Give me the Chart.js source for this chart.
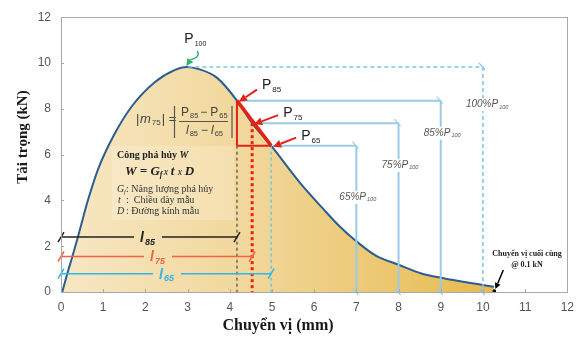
<!DOCTYPE html>
<html>
<head>
<meta charset="utf-8">
<title>Tải trọng - Chuyển vị</title>
<style>body{margin:0;background:#fff}</style>
</head>
<body>
<canvas id="loadChart" width="582" height="350"></canvas>
<script src="https://cdn.jsdelivr.net/npm/chart.js"></script>
<script>
// load - displacement curve
const dispMM = [0.03, 0.17, 0.27, 0.40, 0.65, 0.88, 1.24, 1.67, 2.22, 2.69, 2.97, 3.29, 3.70, 4.17, 4.53, 4.98, 5.65, 6.20, 6.60, 6.97, 7.46, 7.99, 8.56, 9.04, 9.67, 10.26];
const loadKN = [0.00, 0.94, 1.55, 2.40, 4.08, 5.37, 6.80, 8.09, 9.16, 9.69, 9.83, 9.72, 9.35, 8.36, 7.37, 6.39, 4.80, 3.66, 2.87, 2.26, 1.59, 1.20, 0.80, 0.61, 0.40, 0.23];

// P100 / P85 / P75 / P65 levels
const levelPct = [100, 85, 75, 65];
const levelDisp = [2.97, 4.17, 4.53, 4.98];   // where the curve crosses each level
const levelEnd = [10, 9, 8, 7];              // displacement of the blue guide
const levelNames = ['100', '85', '75', '65'];
const finalDisp = 10.27;                      // last displacement @ 0.1 kN

const peakLoad = Math.max(...loadKN);
const levelLoad = levelPct.map(p => peakLoad * p / 100);

const RED = '#e2231a';
const BLUE = '#9ccae6';
const CYAN = '#2cb8e8';
const ORANGE = '#f26245';

function seg(ctx, x1, y1, x2, y2, color, w, dash) {
    ctx.save();
    ctx.strokeStyle = color;
    ctx.lineWidth = w;
    ctx.setLineDash(dash || []);
    ctx.beginPath();
    ctx.moveTo(x1, y1);
    ctx.lineTo(x2, y2);
    ctx.stroke();
    ctx.restore();
}

function arrow(ctx, x1, y1, x2, y2, color, w, head) {
    const ang = Math.atan2(y2 - y1, x2 - x1);
    const bx = x2 - head * Math.cos(ang), by = y2 - head * Math.sin(ang);
    seg(ctx, x1, y1, bx, by, color, w);
    ctx.save();
    ctx.fillStyle = color;
    ctx.beginPath();
    ctx.moveTo(x2, y2);
    ctx.lineTo(bx + head * 0.5 * Math.sin(ang), by - head * 0.5 * Math.cos(ang));
    ctx.lineTo(bx - head * 0.5 * Math.sin(ang), by + head * 0.5 * Math.cos(ang));
    ctx.closePath();
    ctx.fill();
    ctx.restore();
}

// text with a subscript, left aligned, returns the width
function subText(ctx, main, sub, x, y, font, subFont, color, drop) {
    ctx.save();
    ctx.fillStyle = color;
    ctx.textBaseline = 'middle';
    ctx.textAlign = 'left';
    ctx.font = font;
    ctx.fillText(main, x, y);
    const w = ctx.measureText(main).width;
    ctx.font = subFont;
    ctx.fillText(sub, x + w + 1, y + drop);
    const w2 = ctx.measureText(sub).width;
    ctx.restore();
    return w + 1 + w2;
}

const annotate = {
    id: 'annotate',
    afterDatasetsDraw(chart) {
        const {ctx, scales: {x, y}} = chart;
        const X = v => x.getPixelForValue(v), Y = v => y.getPixelForValue(v);
        const y0 = Y(0);

        // lighter box behind the W text
        ctx.save();
        ctx.fillStyle = 'rgba(255,252,240,0.22)';
        ctx.fillRect(112, 146, 122, 74);
        ctx.restore();

        // blue guides for each level
        levelPct.forEach((p, i) => {
            const ly = Y(levelLoad[i]), ex = X(levelEnd[i]);
            const dash = i === 0 ? [4, 3] : [];
            const col = i === 0 ? '#7cc3ea' : BLUE;
            const w = i === 0 ? 1.5 : 2;
            seg(ctx, X(levelDisp[i]) + 2, ly, ex, ly, col, w, dash);
            seg(ctx, ex, ly, ex, y0, col, w, dash);
            seg(ctx, ex - 4, ly - 4, ex + 2, ly + 3, col, 1.2);
            seg(ctx, ex - 3, y0 - 3, ex + 2, y0 + 3, col, 1.2);
        });

        // percent labels
        const pctY = [8.2, 6.95, 5.55, 4.15];
        levelPct.forEach((p, i) => {
            const lx = X(levelEnd[i]) - 17, ly = Y(pctY[i]);
            ctx.save();
            ctx.font = 'italic 10px "Liberation Sans"';
            const w = ctx.measureText(p + '%P').width + 12;
            ctx.fillStyle = '#fff';
            ctx.fillRect(lx - 1, ly - 6, w + 2, 13);
            ctx.restore();
            subText(ctx, p + '%P', '100', lx, ly, 'italic 10px "Liberation Sans"', 'italic 5.5px "Liberation Sans"', '#555', 3);
        });

        // drop lines
        seg(ctx, X(levelDisp[1]), Y(levelLoad[3]), X(levelDisp[1]), y0, '#666', 1.5, [3, 3]);
        seg(ctx, X(levelDisp[2]), Y(levelLoad[2]), X(levelDisp[2]), y0, '#f01e10', 3, [3, 3]);
        seg(ctx, X(levelDisp[3]), Y(levelLoad[3]), X(levelDisp[3]), y0, '#5ccbe8', 1.5, [3, 3]);

        // red triangle
        const p85 = [X(levelDisp[1]), Y(levelLoad[1])];
        const p75 = [X(levelDisp[2]), Y(levelLoad[2])];
        const p65 = [X(levelDisp[3]), Y(levelLoad[3])];
        seg(ctx, p85[0], p85[1], p85[0], p65[1], RED, 2);
        seg(ctx, p85[0], p65[1], p65[0], p65[1], RED, 2);
        seg(ctx, p85[0], p85[1], p65[0], p65[1], RED, 3.5);

        // l85 / l75 / l65 dimension lines
        const dimY = [2.4, 1.55, 0.8];
        const dimCol = ['#222', ORANGE, CYAN];
        const dimCx = [148, 158, 167];
        [1, 2, 3].forEach((k, j) => {
            const yy = Y(dimY[j]), x1 = X(0), x2 = X(levelDisp[k]);
            seg(ctx, x1, yy, dimCx[j] - 14, yy, dimCol[j], 1.5);
            seg(ctx, dimCx[j] + 14, yy, x2, yy, dimCol[j], 1.5);
            seg(ctx, x1 - 3, yy + 5, x1 + 3, yy - 5, dimCol[j], 1.5);
            seg(ctx, x2 - 3, yy + 5, x2 + 3, yy - 5, dimCol[j], 1.5);
            subText(ctx, 'l', levelNames[k], dimCx[j] - 8, yy + 1, 'italic bold 14px "Liberation Sans"', 'italic bold 9px "Liberation Sans"', dimCol[j], 4);
        });

        // slope formula
        const fcol = '#444';
        ctx.save();
        ctx.fillStyle = fcol;
        ctx.textBaseline = 'middle';
        ctx.font = '13px "Liberation Sans"';
        ctx.fillText('|', 136, 119);
        ctx.restore();
        let w = subText(ctx, 'm', '75', 140, 119, 'italic 13px "Liberation Sans"', '8px "Liberation Sans"', fcol, 4);
        ctx.save();
        ctx.fillStyle = fcol;
        ctx.textBaseline = 'middle';
        ctx.font = '13px "Liberation Sans"';
        ctx.fillText('| =', 141 + w, 119);
        ctx.restore();
        seg(ctx, 174.5, 106, 174.5, 138, '#555', 1.2);
        seg(ctx, 232, 106, 232, 138, '#555', 1.2);
        seg(ctx, 179, 121.5, 228, 121.5, '#555', 1);
        let n = subText(ctx, 'P', '85', 181, 113, '12px "Liberation Sans"', '7.5px "Liberation Sans"', fcol, 3);
        ctx.save(); ctx.fillStyle = fcol; ctx.font = '12px "Liberation Sans"'; ctx.textBaseline = 'middle';
        ctx.fillText('\u2212', 181 + n + 2, 113); ctx.restore();
        subText(ctx, 'P', '65', 181 + n + 12, 113, '12px "Liberation Sans"', '7.5px "Liberation Sans"', fcol, 3);
        let d = subText(ctx, 'l', '85', 186, 131, 'italic 12px "Liberation Sans"', '7.5px "Liberation Sans"', fcol, 3);
        ctx.save(); ctx.fillStyle = fcol; ctx.font = '12px "Liberation Sans"'; ctx.textBaseline = 'middle';
        ctx.fillText('\u2212', 186 + d + 3, 131); ctx.restore();
        subText(ctx, 'l', '65', 186 + d + 13, 131, 'italic 12px "Liberation Sans"', '7.5px "Liberation Sans"', fcol, 3);

        // fracture work text
        ctx.save();
        ctx.fillStyle = '#222';
        ctx.textBaseline = 'middle';
        ctx.font = 'bold 10px "Liberation Serif"';
        ctx.fillText('Công phá hủy ', 117, 155);
        let cw = ctx.measureText('Công phá hủy ').width;
        ctx.font = 'bold italic 10px "Liberation Serif"';
        ctx.fillText('W', 117 + cw, 155);
        ctx.font = 'bold italic 13px "Liberation Serif"';
        ctx.fillText('W = G', 125, 172);
        cw = ctx.measureText('W = G').width;
        ctx.font = 'bold italic 8px "Liberation Serif"';
        ctx.fillText('f', 125 + cw, 175);
        ctx.font = 'italic 10px "Liberation Serif"';
        ctx.fillText('x', 125 + cw + 4, 172);
        ctx.font = 'bold italic 13px "Liberation Serif"';
        ctx.fillText('t', 125 + cw + 11, 172);
        ctx.font = 'italic 10px "Liberation Serif"';
        ctx.fillText('x', 125 + cw + 18, 172);
        ctx.font = 'bold italic 13px "Liberation Serif"';
        ctx.fillText('D', 125 + cw + 25, 172);
        ctx.fillStyle = '#333';
        ctx.font = 'italic 10px "Liberation Serif"';
        ctx.fillText('G', 117, 189);
        ctx.font = 'italic 6px "Liberation Serif"';
        ctx.fillText('f', 124, 192);
        ctx.font = 'italic 10px "Liberation Serif"';
        ctx.fillText('t', 118, 200.5);
        ctx.fillText('D', 117, 211.5);
        ctx.font = '10px "Liberation Serif"';
        ctx.fillText(': Năng lượng phá hủy', 126, 189);
        ctx.fillText(':  Chiều dày mẫu', 126, 200.5);
        ctx.fillText(': Đường kính mẫu', 126, 211.5);
        ctx.restore();

        // P labels with red arrows
        const pts = [p85, p75, p65];
        const lab = [[25, -16], [31, -10], [30, -10]];
        const tail = [[20, -11], [26, -8], [25, -8]];
        pts.forEach((p, i) => {
            arrow(ctx, p[0] + tail[i][0], p[1] + tail[i][1], p[0] + 2, p[1] + 1, RED, 2, 8);
            subText(ctx, 'P', levelNames[i + 1], p[0] + lab[i][0], p[1] + lab[i][1], '14px "Liberation Sans"', '8px "Liberation Sans"', '#222', 5);
        });

        // P100 label with green arrow
        const pk = [X(levelDisp[0]), Y(levelLoad[0])];
        subText(ctx, 'P', '100', pk[0] - 2, pk[1] - 28, '14px "Liberation Sans"', '7px "Liberation Sans"', '#222', 5);
        ctx.save();
        ctx.strokeStyle = '#2fb36a';
        ctx.lineWidth = 1.5;
        ctx.beginPath();
        ctx.moveTo(pk[0] + 11, pk[1] - 16);
        ctx.bezierCurveTo(pk[0] + 14, pk[1] - 10, pk[0] + 8, pk[1] - 8, pk[0] + 4, pk[1] - 7);
        ctx.stroke();
        ctx.fillStyle = '#2fb36a';
        ctx.beginPath();
        ctx.moveTo(pk[0], pk[1] - 1);
        ctx.lineTo(pk[0] + 7, pk[1] - 5);
        ctx.lineTo(pk[0] + 1, pk[1] - 9);
        ctx.closePath();
        ctx.fill();
        ctx.restore();

        // final displacement
        const fx = X(finalDisp), fy = Y(0);
        ctx.save();
        ctx.fillStyle = '#000';
        ctx.beginPath();
        ctx.arc(fx, fy - 1, 1.8, 0, Math.PI * 2);
        ctx.fill();
        ctx.fillStyle = '#222';
        ctx.textAlign = 'center';
        ctx.textBaseline = 'middle';
        ctx.font = 'bold 8px "Liberation Serif"';
        ctx.fillText('Chuyển vị cuối cùng', 527, 254);
        ctx.fillText('@ 0.1 kN', 527, 265);
        ctx.restore();
        arrow(ctx, fx + 9, fy - 22, fx + 1, fy - 3, '#000', 1.5, 6);
    },
    afterDraw(chart) {
        const {ctx, chartArea: a, scales: {x, y}} = chart;
        ctx.save();
        ctx.strokeStyle = '#a8a8a8';
        ctx.lineWidth = 1;
        ctx.strokeRect(Math.round(a.left) + 0.5, Math.round(a.top) + 0.5, Math.round(a.width), Math.round(a.height));
        // small inner ticks
        for (let v = 0; v <= 12; v += 2) {
            const py = Math.round(y.getPixelForValue(v)) + 0.5;
            ctx.beginPath(); ctx.moveTo(a.left, py); ctx.lineTo(a.left + 3, py); ctx.stroke();
        }
        for (let v = 0; v <= 12; v++) {
            const px = Math.round(x.getPixelForValue(v)) + 0.5;
            ctx.beginPath(); ctx.moveTo(px, a.bottom); ctx.lineTo(px, a.bottom - 3); ctx.stroke();
        }
        // axis titles
        ctx.fillStyle = '#1a1a1a';
        ctx.textAlign = 'center';
        ctx.textBaseline = 'middle';
        ctx.font = 'bold 16px "Liberation Serif"';
        ctx.fillText('Chuyển vị (mm)', 278, 326);
        ctx.translate(23, 137);
        ctx.rotate(-Math.PI / 2);
        ctx.font = 'bold 15px "Liberation Serif"';
        ctx.fillText('Tải trọng (kN)', 0, 0);
        ctx.restore();
    }
};

const ctx = document.getElementById('loadChart');
new Chart(ctx, {
    type: 'line',
    data: {
        datasets: [{
            data: dispMM.map((d, i) => ({x: d, y: loadKN[i]})),
            borderColor: '#2a5d91',
            borderWidth: 2,
            pointRadius: 0,
            cubicInterpolationMode: 'monotone',
            fill: 'origin',
            backgroundColor: function(context) {
                const {chart} = context;
                const {ctx, chartArea} = chart;
                if (!chartArea) return null;
                const xs = chart.scales.x;
                const g = ctx.createLinearGradient(xs.getPixelForValue(0), 0, xs.getPixelForValue(10.3), 0);
                g.addColorStop(0, '#f7e7c4');
                g.addColorStop(0.45, '#f1d698');
                g.addColorStop(0.85, '#e9c262');
                g.addColorStop(1, '#e5ba4e');
                return g;
            }
        }]
    },
    options: {
        responsive: false,
        animation: false,
        layout: {padding: {top: 11, right: 13, left: 0, bottom: 0}},
        plugins: {legend: {display: false}, tooltip: {enabled: false}},
        scales: {
            x: {
                type: 'linear',
                min: 0, max: 12,
                border: {display: false},
                grid: {display: false, drawTicks: false},
                ticks: {stepSize: 1, padding: 8, color: '#555', font: {family: 'Liberation Sans', size: 12}},
                afterFit: s => { s.height = 58; }
            },
            y: {
                type: 'linear',
                min: 0, max: 12,
                border: {display: false},
                grid: {display: false, drawTicks: false},
                ticks: {stepSize: 2, padding: 10, color: '#555', font: {family: 'Liberation Sans', size: 12}},
                afterFit: s => { s.width = 61; }
            }
        }
    },
    plugins: [annotate]
});
</script>
</body>
</html>
